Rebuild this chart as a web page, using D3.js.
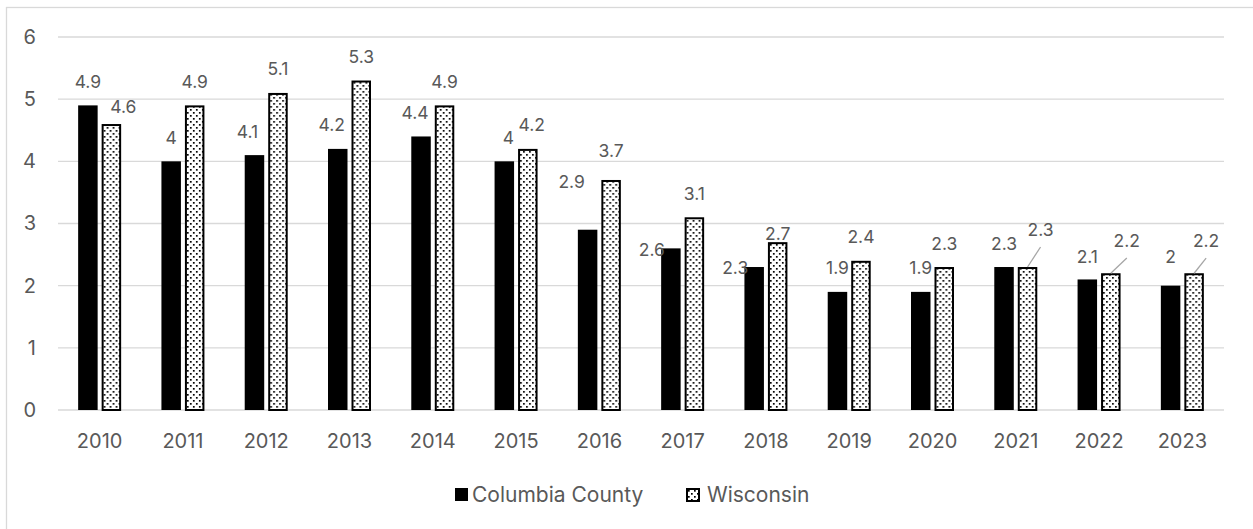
<!DOCTYPE html>
<html>
<head>
<meta charset="utf-8">
<script src="https://cdn.jsdelivr.net/npm/d3@7"></script>
<style>
  body { margin: 0; background: #fff; }
  text { font-family: Inter, "Open Sans", sans-serif; fill: #595959; }
</style>
</head>
<body>
<div id="chart-container"></div>
<script>
var years = [2010, 2011, 2012, 2013, 2014, 2015, 2016, 2017, 2018, 2019, 2020, 2021, 2022, 2023];
var columbia = [4.9, 4, 4.1, 4.2, 4.4, 4, 2.9, 2.6, 2.3, 1.9, 1.9, 2.3, 2.1, 2];
var wisconsin = [4.6, 4.9, 5.1, 5.3, 4.9, 4.2, 3.7, 3.1, 2.7, 2.4, 2.3, 2.3, 2.2, 2.2];
var seriesNames = ["Columbia County", "Wisconsin"];
var yTicks = [0, 1, 2, 3, 4, 5, 6];

// hand-moved data labels (dx, dy from the default spot above the bar)
var columbiaLabelShift = [[0,0],[0,0],[-7,0],[-6,0],[-6,0],[4,0],[-16,-24],[-19,25],[-19,24],[0,0],[0,0],[0,0],[0,1],[0,-5.5]];
var wisconsinLabelShift = [[12,6.5],[0,0],[0,0],[0,0],[0,0],[4,0],[0,-5.5],[0,0],[0,15],[0,0],[0,0],[13,-13.5],[16,-8.7],[12,-8.7]];
var wisconsinLeader = [false,false,false,false,false,false,false,false,false,false,false,true,true,true];

var width = 1253, height = 529;
var plot = {left: 58, right: 1224, top: 37, bottom: 410};

var svg = d3.select("#chart-container")
    .append("svg")
    .attr("width", width)
    .attr("height", height);

var defs = svg.append("defs");
var pat = defs.append("pattern")
    .attr("id", "dots")
    .attr("patternUnits", "userSpaceOnUse")
    .attr("width", 6)
    .attr("height", 6);
pat.append("rect").attr("width", 6).attr("height", 6).attr("fill", "#fff");
pat.append("rect").attr("x", 1).attr("y", 1).attr("width", 1.7).attr("height", 1.7).attr("fill", "#000");
pat.append("rect").attr("x", 4).attr("y", 4).attr("width", 1.7).attr("height", 1.7).attr("fill", "#000");

// chart area border
svg.append("rect")
    .attr("x", 6.5).attr("y", 7.5)
    .attr("width", 1300).attr("height", 600)
    .attr("fill", "none")
    .attr("stroke", "#d9d9d9")
    .attr("stroke-width", 1.3);

var x = d3.scaleBand()
    .domain(years)
    .range([plot.left, plot.right]);

var x1 = d3.scaleBand()
    .domain(seriesNames)
    .range([-21.5, 21.5])
    .paddingInner(4 / 23.5);

var y = d3.scaleLinear()
    .domain([0, 6])
    .range([plot.bottom, plot.top]);

// gridlines
svg.append("g")
    .selectAll("line")
    .data(yTicks)
    .enter().append("line")
    .attr("x1", plot.left)
    .attr("x2", plot.right)
    .attr("y1", function(d) { return y(d); })
    .attr("y2", function(d) { return y(d); })
    .attr("stroke", "#d9d9d9")
    .attr("stroke-width", 1.3);

// y axis labels
var yAxis = d3.axisLeft(y)
    .tickValues(yTicks)
    .tickSize(0)
    .tickPadding(0)
    .tickFormat(d3.format("d"));

svg.append("g")
    .attr("transform", "translate(36,0)")
    .call(yAxis)
    .call(function(g) { g.select(".domain").remove(); })
    .selectAll("text")
    .attr("font-size", 20)
    .attr("fill", "#595959");

// x axis labels
var xAxis = d3.axisBottom(x)
    .tickSize(0)
    .tickPadding(0);

var gx = svg.append("g")
    .attr("transform", "translate(0,433)")
    .call(xAxis)
    .call(function(g) { g.select(".domain").remove(); });
gx.selectAll("text")
    .attr("dy", "0.75em")
    .attr("font-size", 20)
    .attr("fill", "#595959");
svg.selectAll("g").attr("font-family", null);

var rows = years.map(function(yr, i) {
    return {year: yr, c: columbia[i], w: wisconsin[i], i: i};
});

var groups = svg.append("g")
    .selectAll("g")
    .data(rows)
    .enter().append("g")
    .attr("transform", function(d) { return "translate(" + (x(d.year) + x.bandwidth() / 2) + ",0)"; });

var bw = x1.bandwidth();

groups.append("rect")
    .attr("x", x1(seriesNames[0]))
    .attr("y", function(d) { return y(d.c); })
    .attr("width", bw)
    .attr("height", function(d) { return y(0) - y(d.c); })
    .attr("fill", "#000");

groups.append("rect")
    .attr("x", x1(seriesNames[1]) + 1)
    .attr("y", function(d) { return y(d.w) + 1; })
    .attr("width", bw - 2)
    .attr("height", function(d) { return y(0) - y(d.w) - 1; })
    .attr("fill", "url(#dots)")
    .attr("stroke", "#000")
    .attr("stroke-width", 2);

// data labels
var base = 17.5;

groups.append("text")
    .attr("x", function(d) { return x1(seriesNames[0]) + bw / 2 + columbiaLabelShift[d.i][0]; })
    .attr("y", function(d) { return y(d.c) - base + columbiaLabelShift[d.i][1]; })
    .attr("text-anchor", "middle")
    .attr("font-size", 17.5)
    .text(function(d) { return d.c; });

groups.append("text")
    .attr("x", function(d) { return x1(seriesNames[1]) + bw / 2 + wisconsinLabelShift[d.i][0]; })
    .attr("y", function(d) { return y(d.w) - base + wisconsinLabelShift[d.i][1]; })
    .attr("text-anchor", "middle")
    .attr("font-size", 17.5)
    .text(function(d) { return d.w; });

// leader lines for moved labels
groups.filter(function(d) { return wisconsinLeader[d.i]; })
    .append("line")
    .attr("x1", x1(seriesNames[1]) + bw / 2)
    .attr("y1", function(d) { return y(d.w); })
    .attr("x2", function(d) { return x1(seriesNames[1]) + bw / 2 + wisconsinLabelShift[d.i][0]; })
    .attr("y2", function(d) { return y(d.w) - base + wisconsinLabelShift[d.i][1] + 11; })
    .attr("stroke", "#a6a6a6")
    .attr("stroke-width", 1.3);

// legend
var legend = svg.append("g");
legend.append("rect")
    .attr("x", 455).attr("y", 488)
    .attr("width", 13).attr("height", 13)
    .attr("fill", "#000");
legend.append("text")
    .attr("x", 472).attr("y", 502)
    .attr("font-size", 21)
    .text(seriesNames[0]);
legend.append("rect")
    .attr("x", 687).attr("y", 489)
    .attr("width", 12).attr("height", 12)
    .attr("fill", "url(#dots)")
    .attr("stroke", "#000")
    .attr("stroke-width", 2);
legend.append("text")
    .attr("x", 707).attr("y", 502)
    .attr("font-size", 21)
    .text(seriesNames[1]);
</script>
</body>
</html>
